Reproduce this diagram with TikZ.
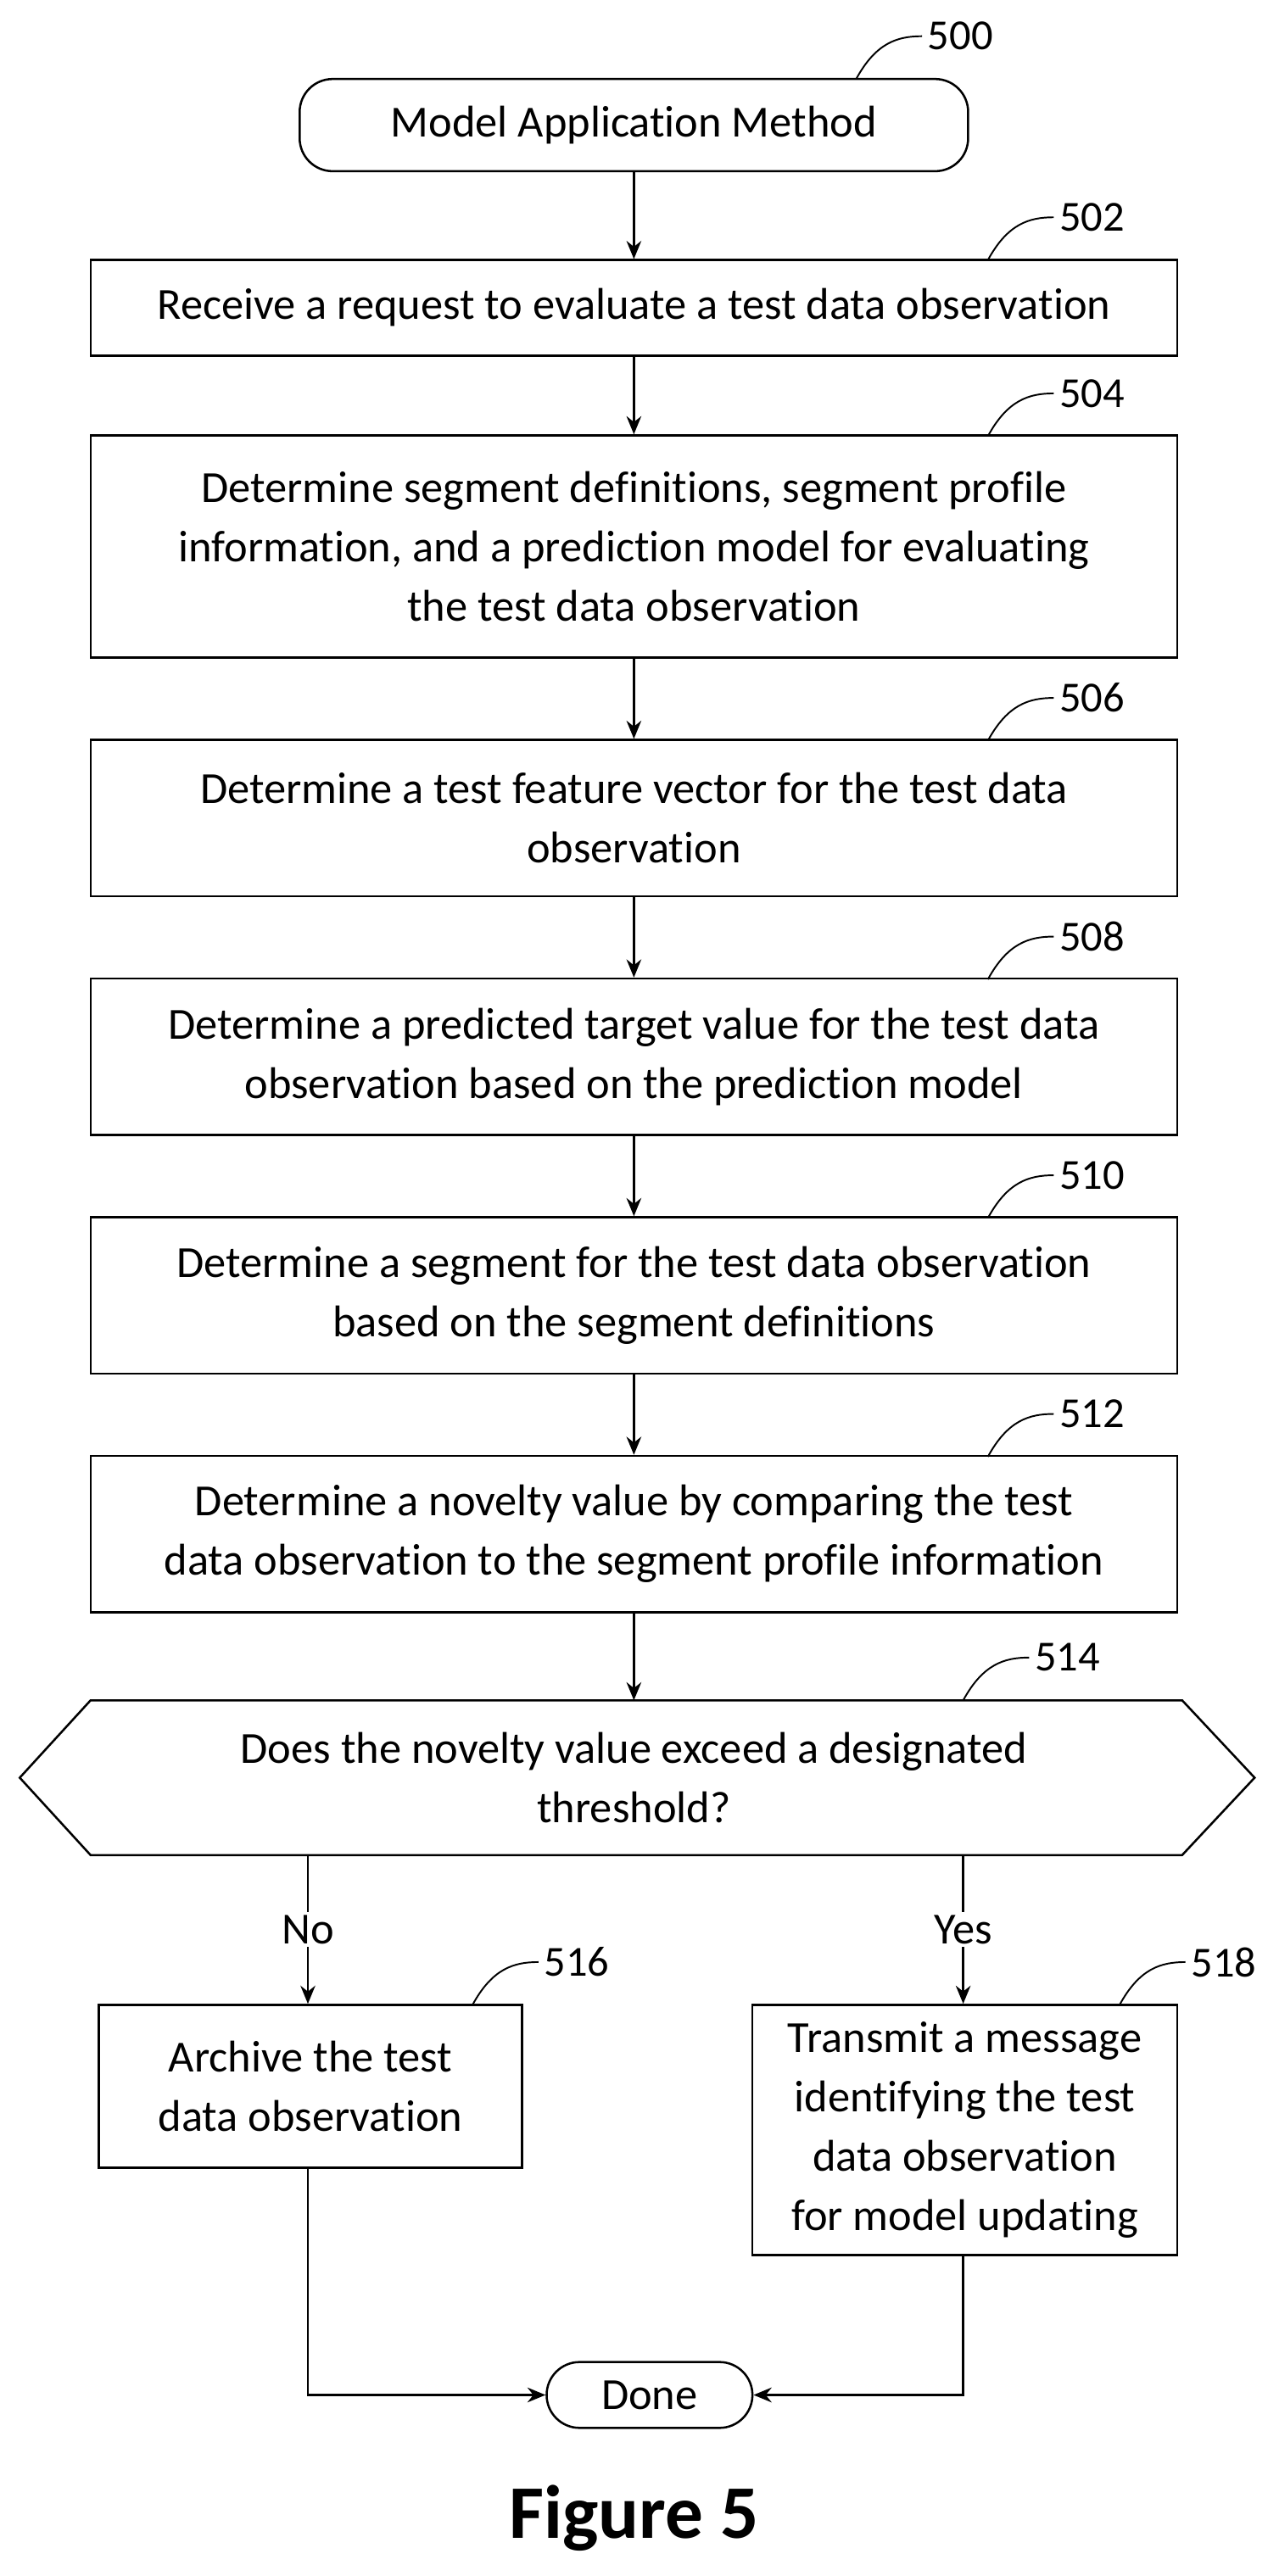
\documentclass[tikz,border=0pt]{standalone}
\usepackage{fontspec}
\setmainfont[Ligatures=NoCommon]{Carlito}
\usetikzlibrary{arrows.meta}
\begin{document}
\begin{tikzpicture}[x=1pt,y=-1pt,
 every node/.style={font=\fontsize{27}{36}\selectfont},
 box/.style={draw,line width=1.3pt,align=center,inner sep=0pt},
 term/.style={draw,line width=1.3pt,rounded corners=20pt,inner sep=0pt},
 arr/.style={line width=1.3pt,-{Stealth[length=11pt,width=9pt]}},
 ln/.style={line width=1.3pt},
 lbl/.style={font=\fontsize{26}{30}\selectfont}]
\useasboundingbox (0,0) rectangle (770,1565);
\node[term,minimum width=406pt,minimum height=56pt] (s) at (385,76) {Model Application Method};
\node[box,minimum width=660pt,minimum height=58pt] (b502) at (385,187) {Receive a request to evaluate a test data observation};
\node[box,minimum width=660pt,minimum height=135pt] (b504) at (385,332) {Determine segment definitions, segment profile\\ information, and a prediction model for evaluating\\ the test data observation};
\node[box,minimum width=660pt,minimum height=95pt] (b506) at (385,497) {Determine a test feature vector for the test data\\ observation};
\node[box,minimum width=660pt,minimum height=95pt] (b508) at (385,642) {Determine a predicted target value for the test data\\ observation based on the prediction model};
\node[box,minimum width=660pt,minimum height=95pt] (b510) at (385,787) {Determine a segment for the test data observation\\ based on the segment definitions};
\node[box,minimum width=660pt,minimum height=95pt] (b512) at (385,932) {Determine a novelty value by comparing the test\\ data observation to the segment profile information};
\draw[ln] (12,1080) -- (55,1033) -- (718,1033) -- (762,1080) -- (718,1127) -- (55,1127) -- cycle;
\node[align=center] (h) at (385,1080) {Does the novelty value exceed a designated\\ threshold?};
\coordinate (hl) at (187,1127); \coordinate (hr) at (585,1127);
\node[box,minimum width=257pt,minimum height=99pt] (b516) at (188.5,1267.5) {Archive the test\\ data observation};
\node[box,minimum width=258pt,minimum height=152pt] (b518) at (586,1294) {Transmit a message\\ identifying the test\\ data observation\\ for model updating};
\node[term,minimum width=125pt,minimum height=40pt] (d) at (394.5,1455) {Done};
\node[font=\fontsize{46}{50}\selectfont\bfseries] (fig) at (385,1530) {Figure 5};
\draw[arr] (s) -- (b502);
\draw[arr] (b502) -- (b504);
\draw[arr] (b504) -- (b506);
\draw[arr] (b506) -- (b508);
\draw[arr] (b508) -- (b510);
\draw[arr] (b510) -- (b512);
\draw[arr] (b512.south) -- (385,1033);
\draw[arr] (hl) -- node[fill=white,inner sep=2pt] {No} (b516.north-|hl);
\draw[arr] (hr) -- node[fill=white,inner sep=2pt] {Yes} (b518.north-|hr);
\draw[arr] (b516.south-|hl) |- (d.west);
\draw[arr] (b518.south-|hr) |- (d.east);
% reference labels
\foreach \n/\xa/\ya in {500/520/48,502/600/158,504/600/265,506/600/450,508/600/595,510/600/740,512/600/885,514/585/1033,516/287/1218,518/680/1218}{
 \node[lbl,anchor=west] (l\n) at (\xa+40,\ya-26) {\n};
 \draw[ln,line width=1pt] (\xa,\ya) .. controls (\xa+12,\ya-22) and (\xa+25,\ya-26) .. (l\n.west);
}
\end{tikzpicture}
\end{document}
